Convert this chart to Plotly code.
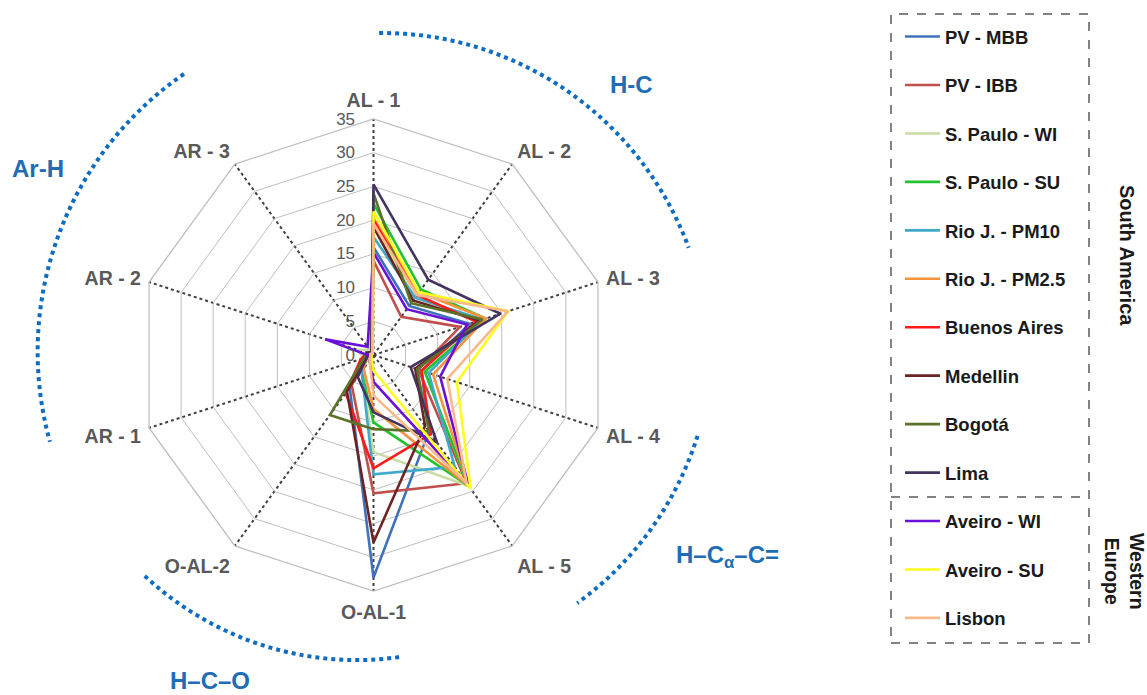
import math
import plotly.graph_objects as go

W, H = 1147, 695

categories = ["AL - 1", "AL - 2", "AL - 3", "AL - 4", "AL - 5",
              "O-AL-1", "O-AL-2", "AR - 1", "AR - 2", "AR - 3"]

series_names = ["PV - MBB", "PV - IBB", "S. Paulo - WI", "S. Paulo - SU",
                "Rio J. - PM10", "Rio J. - PM2.5", "Buenos Aires", "Medellin",
                "Bogotá", "Lima", "Aveiro - WI", "Aveiro - SU", "Lisbon"]

pv_mbb = [16, 9, 15, 7.5, 14, 33, 6, 1, 1, 0.5]
pv_ibb = [14, 7, 13.5, 7, 23.5, 20.5, 5.5, 1, 1, 0.5]
sp_wi = [19, 10.5, 17, 8, 24, 14.4, 3, 1.5, 2.5, 1]
sp_su = [22.5, 12, 17.5, 8, 24, 10, 3, 1, 1, 0.5]
rio_pm10 = [17.5, 10.5, 17, 8.6, 20.5, 17.7, 3, 1, 1, 0.5]
rio_pm25 = [20.3, 11.5, 17.5, 9.3, 24, 8, 2.5, 1, 1, 0.5]
buenos_aires = [20, 11, 16, 7.5, 14.5, 16.8, 7, 2, 1, 0.5]
medellin = [19, 10, 16.5, 6.5, 13, 27.8, 6.7, 1, 1, 0.5]
bogota = [24, 9.5, 17, 6.8, 14, 11, 11, 1.5, 1, 0.5]
lima = [25.3, 13.8, 19.8, 5.8, 16, 8.5, 4, 1, 1, 0.5]
aveiro_wi = [15.2, 8.4, 14.6, 10.4, 24, 4, 1, 0.5, 7.5, 1.5]
aveiro_su = [21.3, 11.5, 21, 13, 24.5, 2.3, 0.5, 0.3, 0.3, 0.2]
lisbon = [19.5, 11, 21, 11.5, 23.5, 6, 1, 0.5, 0.5, 0.3]

series_values = [pv_mbb, pv_ibb, sp_wi, sp_su, rio_pm10, rio_pm25, buenos_aires,
                 medellin, bogota, lima, aveiro_wi, aveiro_su, lisbon]
series_colors = ["#3F72B8", "#C0504D", "#C9DCA3", "#22C32E", "#3FA9C9", "#F7923C",
                 "#FF1A1A", "#6B2424", "#5A7229", "#43335E", "#6A10D8", "#FFFF1A",
                 "#F9B98A"]

radial_ticks = [0, 5, 10, 15, 20, 25, 30, 35]

fig = go.Figure()
for name, vals, col in zip(series_names, series_values, series_colors):
    fig.add_trace(go.Scatterpolar(
        r=vals + [vals[0]], theta=categories + [categories[0]],
        mode="lines", name=name, legendgroup=name,
        line=dict(color=col, width=2.6),
    ))

# geometry (pixels)
cx, cy, R = 373.5, 355, 236

def px(x):
    return x / W

def py(y):
    return 1 - y / H

FONT = "Liberation Sans, Arial, sans-serif"

fig.update_layout(
    width=W, height=H, margin=dict(l=0, r=0, t=0, b=0),
    paper_bgcolor="white", plot_bgcolor="white",
    polar=dict(
        domain=dict(x=[px(cx - R), px(cx + R)], y=[py(cy + R), py(cy - R)]),
        gridshape="linear",
        bgcolor="white",
        radialaxis=dict(
            range=[0, 35], tickvals=radial_ticks, angle=90, tickangle=90,
            side="counterclockwise", showline=False,
            gridcolor="#BFBFBF", gridwidth=1.3,
            ticks="outside", ticklen=12, tickcolor="rgba(0,0,0,0)",
            tickfont=dict(family=FONT, size=17, color="#595959"),
        ),
        angularaxis=dict(
            rotation=90, direction="clockwise",
            categoryorder="array", categoryarray=categories,
            gridcolor="#404040", gridwidth=2.2, griddash="dot",
            showline=True, linecolor="#BFBFBF", linewidth=1.3,
            ticks="outside", ticklen=4, tickcolor="rgba(0,0,0,0)",
            tickfont=dict(family=FONT, size=19.5, color="#595959", weight="bold"),
        ),
    ),
    legend=dict(
        x=px(900), y=py(18), xanchor="left", yanchor="top",
        font=dict(family=FONT, size=18.5, color="#1a1a1a", weight="bold"),
        tracegroupgap=21.4, bgcolor="rgba(0,0,0,0)", itemwidth=35,
    ),
)

shapes = []
# legend dashed box
shapes.append(dict(type="rect", xref="paper", yref="paper",
                   x0=px(891), x1=px(1089), y0=py(643), y1=py(14),
                   line=dict(color="#595959", width=1.5, dash="dash")))
shapes.append(dict(type="line", xref="paper", yref="paper",
                   x0=px(891), x1=px(1089), y0=py(497), y1=py(497),
                   line=dict(color="#595959", width=1.5, dash="dash")))

# blue dotted arcs (decorative)
arcs = [(89, 322, 18.8, 333), (124, 339, 195, 335),
        (-14, 334, -50.6, 321), (-136, 318, -84.5, 303)]
for a0, r0, a1, r1 in arcs:
    n = 60
    pts = []
    for i in range(n + 1):
        t = i / n
        a = math.radians(a0 + (a1 - a0) * t)
        r = r0 + (r1 - r0) * t
        x = cx + r * math.cos(a)
        y = cy - r * math.sin(a)
        pts.append(f"{px(x):.5f},{py(y):.5f}")
    path = "M " + " L ".join(pts)
    shapes.append(dict(type="path", xref="paper", yref="paper", path=path,
                       line=dict(color="#0F6CC0", width=4, dash="4px,4px")))
fig.update_layout(shapes=shapes)

ann = []
blue_labels = [("H-C", 631, 84), ("Ar-H", 38, 168),
               ("H–C<sub>α</sub>–C=", 727, 556), ("H–C–O", 210, 680)]
for txt, x, y in blue_labels:
    ann.append(dict(text=txt, x=px(x), y=py(y), xref="paper", yref="paper",
                    showarrow=False, xanchor="center", yanchor="middle",
                    font=dict(family=FONT, size=24, color="#1F6DB5", weight="bold")))
ann.append(dict(text="South America", x=px(1127), y=py(255), xref="paper", yref="paper",
                showarrow=False, textangle=90, xanchor="center", yanchor="middle",
                font=dict(family=FONT, size=20, color="#1a1a1a", weight="bold")))
ann.append(dict(text="Western<br>Europe", x=px(1125), y=py(571), xref="paper", yref="paper",
                showarrow=False, textangle=90, xanchor="center", yanchor="middle",
                font=dict(family=FONT, size=19.5, color="#1a1a1a", weight="bold")))
fig.update_layout(annotations=ann)

fig.write_html("out.html", config={"displayModeBar": False},
               post_script="document.body.style.margin='0';")
